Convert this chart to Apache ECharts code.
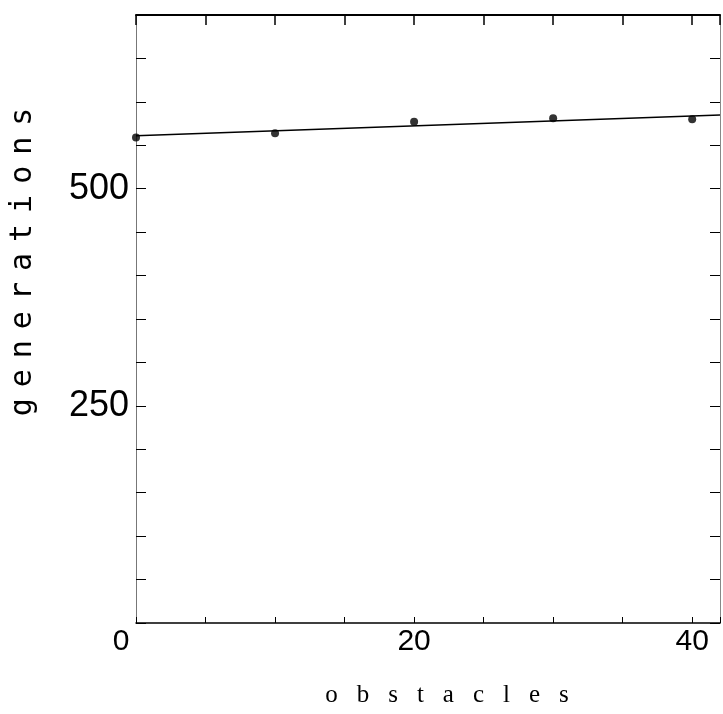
<!DOCTYPE html>
<html><head><meta charset="utf-8">
<script src="https://cdn.jsdelivr.net/npm/echarts@6/dist/echarts.min.js"></script>
<style>html,body{margin:0;padding:0;background:#fff}#c{width:723px;height:714px}</style>
</head><body><div id="c"></div>
<script>
const obstacles = [0, 10, 20, 30, 40];
const generations = [559, 564, 577, 581, 580];
const fitX = [0, 42];
const fitY = [561, 585];
const xTickLabels = [0, 20, 40];
const yTickLabels = [250, 500];
const xTitle = 'obstacles';
const yTitle = 'generations';

function spaced(word, style){
  return word.split('').map(c => '{' + style + '|' + c + '}').join('{sp| }');
}

const chart = echarts.init(document.getElementById('c'), null, {renderer: 'canvas'});
const tickFont = 'Liberation Sans, Arial, sans-serif';
chart.setOption({
  animation: false,
  backgroundColor: '#fff',
  grid: {left: 135, right: 1, top: 15, bottom: 91, containLabel: false},
  xAxis: [{
    type: 'value', position: 'bottom', min: 0, max: 42, interval: 5,
    splitLine: {show: false},
    axisLine: {onZero: false, lineStyle: {color: '#000', width: 1.5}},
    axisTick: {inside: true, length: 6, lineStyle: {color: '#000', width: 1}},
    axisLabel: {
      margin: 4, color: '#000', fontSize: 30, fontFamily: tickFont,
      formatter: v => v === 0 ? '{z|0}' : (xTickLabels.includes(v) ? String(v) : ''),
      rich: {z: {fontSize: 30, fontFamily: tickFont, color: '#000', padding: [0, 30, 0, 0]}}
    },
    name: spaced(xTitle, 'l'), nameLocation: 'middle', nameGap: 60,
    nameTextStyle: {
      padding: [0, 0, 0, 38],
      rich: {
        l: {fontFamily: 'Liberation Serif, Times New Roman, serif', fontSize: 25, color: '#000'},
        sp: {fontSize: 25, width: 19}
      }
    }
  }, {
    type: 'value', position: 'top', min: 0, max: 42, interval: 5,
    splitLine: {show: false},
    axisLine: {onZero: false, lineStyle: {color: '#000', width: 2}},
    axisTick: {inside: true, length: 10, lineStyle: {color: '#000', width: 1.5}},
    axisLabel: {show: false}
  }],
  yAxis: [{
    type: 'value', position: 'left', min: 0, max: 700, interval: 50,
    splitLine: {show: false},
    axisLine: {onZero: false, lineStyle: {color: '#777', width: 1}},
    axisTick: {inside: true, length: 10, lineStyle: {color: '#000', width: 1}},
    axisLabel: {
      margin: 7, color: '#000', fontSize: 36, fontFamily: tickFont,
      formatter: v => yTickLabels.includes(v) ? String(v) : ''
    },
    name: spaced(yTitle, 'l'), nameLocation: 'middle', nameGap: 98, nameRotate: 90,
    nameTextStyle: {
      padding: [0, 0, 0, 114],
      rich: {
        l: {fontFamily: 'DejaVu Sans Mono, Liberation Mono, monospace', fontSize: 30, color: '#000'},
        sp: {fontSize: 30, width: 11}
      }
    }
  }, {
    type: 'value', position: 'right', min: 0, max: 700, interval: 50,
    splitLine: {show: false},
    axisLine: {onZero: false, lineStyle: {color: '#888', width: 1}},
    axisTick: {inside: true, length: 10, lineStyle: {color: '#000', width: 1}},
    axisLabel: {show: false}
  }],
  series: [{
    type: 'line', xAxisIndex: 0, yAxisIndex: 0,
    data: fitX.map((x, i) => [x, fitY[i]]),
    symbol: 'none', lineStyle: {color: '#000', width: 1.5}, z: 2
  }, {
    type: 'scatter', xAxisIndex: 0, yAxisIndex: 0,
    data: obstacles.map((x, i) => [x, generations[i]]),
    symbol: 'circle', symbolSize: 8, itemStyle: {color: '#000'}, clip: false, z: 3
  }]
});
</script>
</body></html>
